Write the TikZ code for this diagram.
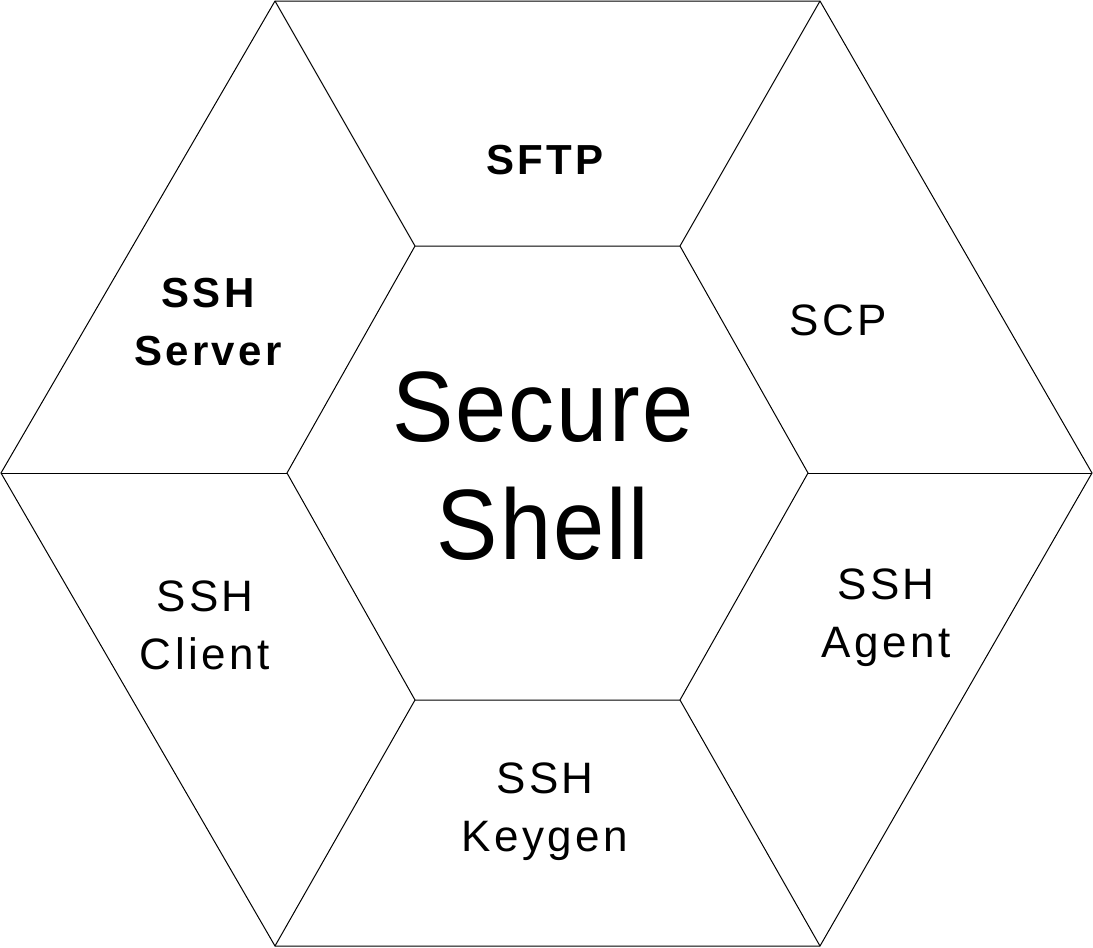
\documentclass[tikz,border=0pt]{standalone}
\usepackage{fontspec}
\setmainfont{Liberation Sans}[LetterSpace=8]
\newfontfamily\bigfont{Liberation Sans}[LetterSpace=2,FakeStretch=0.92]
\begin{document}
\begin{tikzpicture}[x=1pt,y=-1pt,line width=1pt,
  lab/.style={align=center,font=\fontsize{44}{58}\selectfont},
  blab/.style={align=center,font=\fontsize{42}{58}\selectfont\bfseries}]
\useasboundingbox (0,0) rectangle (1093,948);
\coordinate (o1) at (275,1); \coordinate (o2) at (820,1); \coordinate (o3) at (1092,473);
\coordinate (o4) at (820,946); \coordinate (o5) at (275,946); \coordinate (o6) at (1,473);
\coordinate (i1) at (415,246); \coordinate (i2) at (680,246); \coordinate (i3) at (808,473);
\coordinate (i4) at (680,700); \coordinate (i5) at (415,700); \coordinate (i6) at (287,473);
\draw (o1)--(o2)--(o3)--(o4)--(o5)--(o6)--cycle;
\draw (i1)--(i2)--(i3)--(i4)--(i5)--(i6)--cycle;
\foreach \k in {1,...,6} \draw (o\k)--(i\k);
\node[blab] (sftp) at (545,160) {SFTP};
\node[blab] (srv) at (208,322) {SSH\\Server};
\node[lab] (scp) at (838,320) {SCP};
\node[align=center,font=\bigfont\fontsize{100}{118}\selectfont] (ss) at (543,466) {Secure\\Shell};
\node[lab] (cli) at (205,625) {SSH\\Client};
\node[lab] (ag) at (886,618) {SSH\\Agent};
\node[lab] (kg) at (545,812) {SSH\\Keygen};
\end{tikzpicture}
\end{document}
